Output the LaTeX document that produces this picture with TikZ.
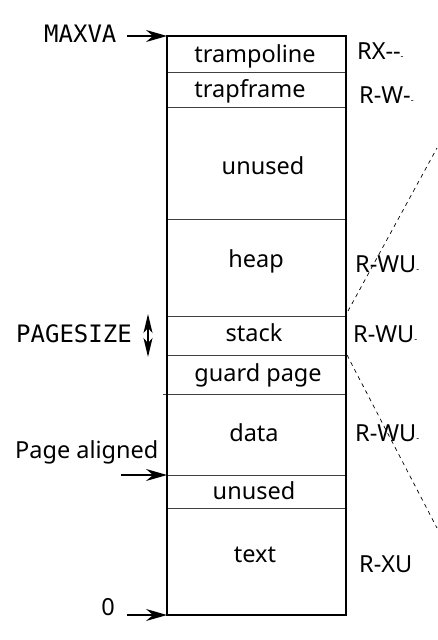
\documentclass[tikz,border=0pt]{standalone}
\usepackage{fontspec}
\setmainfont{Noto Sans}
\newfontfamily\monof{DejaVu Sans Mono}
\usetikzlibrary{arrows.meta}
\begin{document}
\begin{tikzpicture}[x=1pt,y=-1pt,
  lbl/.style={font=\fontsize{23.5}{26}\selectfont, inner sep=0pt},
  mono/.style={font=\monof\fontsize{24}{26}\selectfont, inner sep=0pt},
  divider/.style={draw=black!75, line width=0.9pt},
  outer/.style={draw=black, line width=2pt},
  ptr/.style={line width=1.3pt, -{Stealth[length=21pt,width=12pt,inset=7pt]}},
  dbl/.style={line width=1.3pt, {Stealth[length=19pt,width=9pt,inset=5pt]}-{Stealth[length=19pt,width=9pt,inset=5pt]}},
  guide/.style={line width=0.7pt, dash pattern=on 4pt off 4pt}]
\useasboundingbox (0,0) rectangle (437,640);
% box corners
\coordinate (tl) at (167,36);
\coordinate (br) at (346,615);
\coordinate (bl) at (167,615);
% dividers
\coordinate (d1l) at (167,72);  \coordinate (d1r) at (346,72);
\coordinate (d2l) at (167,107); \coordinate (d2r) at (346,107);
\coordinate (d3l) at (167,219); \coordinate (d3r) at (346,219);
\coordinate (d4l) at (167,316); \coordinate (d4r) at (346,316);
\coordinate (d5l) at (167,355); \coordinate (d5r) at (346,355);
\coordinate (d6l) at (163,394); \coordinate (d6r) at (346,394);
\coordinate (d7l) at (167,475); \coordinate (d7r) at (346,475);
\coordinate (d8l) at (167,508); \coordinate (d8r) at (346,508);
\foreach \i in {1,...,8} {\draw[divider] (d\i l) -- (d\i r);}
\draw[outer] (tl) rectangle (br);
% region texts
\node[lbl] (tramp) at (255,56) {trampoline};
\node[lbl] (trapf) at (250,91) {trapframe};
\node[lbl] (unused1) at (263,166) {unused};
\node[lbl] (heap) at (256,261) {heap};
\node[lbl] (stack) at (254,333) {stack};
\node[lbl] (guard) at (258,375) {guard page};
\node[lbl] (data) at (254,433) {data};
\node[lbl] (unused2) at (254,491) {unused};
\node[lbl] (text) at (255,555) {text};
% permissions
\newcommand{\sd}{{\fontsize{9}{9}\selectfont -}}
\node[lbl, anchor=west] (p1) at (357,51) {RX-{}-\sd};
\node[lbl, anchor=west] (p2) at (359,95) {R-W-\sd};
\node[lbl, anchor=west] (p3) at (355,264) {R-WU\sd};
\node[lbl, anchor=west] (p4) at (353,334) {R-WU\sd};
\node[lbl, anchor=west] (p5) at (355,433) {R-WU\sd};
\node[lbl, anchor=west] (p6) at (359,564) {R-XU};
% left labels
\node[mono, anchor=west] (maxva) at (44,34) {MAXVA};
\coordinate (maxvaS) at (127,36);
\draw[ptr] (maxvaS) -- (tl);
\node[mono, anchor=west] (pgsz) at (16,334) {PAGESIZE};
\coordinate (pgT) at (148,314);
\coordinate (pgB) at (148,357);
\draw[dbl] (pgT) -- (pgB);
\node[lbl, anchor=west] (pal) at (15,452) {Page aligned};
\coordinate (palS) at (121,475);
\draw[ptr] (palS) -- (d7l);
\node[lbl] (zero) at (108,607) {0};
\coordinate (zeroS) at (127,615);
\draw[ptr] (zeroS) -- (bl);
% dashed guides
\coordinate (g1a) at (348,311); \coordinate (g1b) at (437,148);
\coordinate (g2a) at (347,355); \coordinate (g2b) at (437,528);
\draw[guide] (g1a) -- (g1b);
\draw[guide] (g2a) -- (g2b);
\end{tikzpicture}
\end{document}
